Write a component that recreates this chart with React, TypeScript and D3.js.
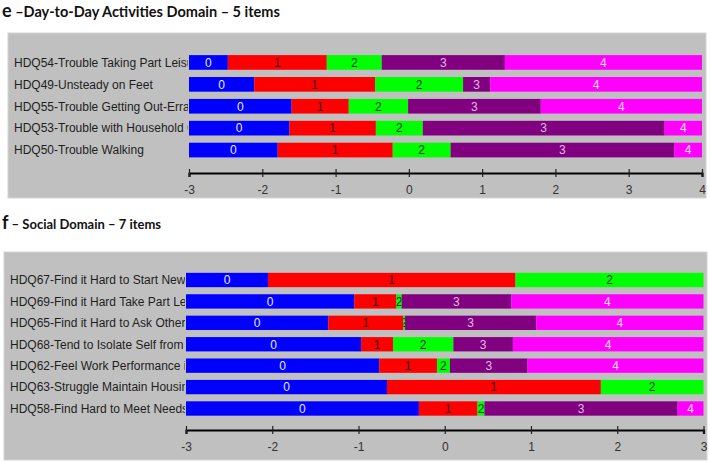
import React, { useEffect, useRef } from 'react';
import * as d3 from 'd3';

// category colours (0..4) and the colour of the number printed in each
const categories = ['0', '1', '2', '3', '4'];
const catColors = ['#0000ff', '#ff0000', '#00ff00', '#800080', '#ff00ff'];
const catText = ['#e8e8ff', '#3a0000', '#003a00', '#e0b8e0', '#ffe0ff'];

// e - Day-to-Day Activities
const dailyLabels = [
    'HDQ54-Trouble Taking Part Leisure',
    'HDQ49-Unsteady on Feet',
    'HDQ55-Trouble Getting Out-Errands',
    'HDQ53-Trouble with Household Chores',
    'HDQ50-Trouble Walking',
];
// category thresholds per item (start of categories 1..4)
const dailyThresholds = [
    [-2.47, -1.12, -0.37, 1.31],
    [-2.11, -0.46, 0.74, 1.11],
    [-1.60, -0.82, -0.01, 1.80],
    [-1.63, -0.45, 0.19, 3.49],
    [-1.79, -0.22, 0.57, 3.62],
];
const dailyTicks = [-3, -2, -1, 0, 1, 2, 3, 4];

// f - Social
const socialLabels = [
    'HDQ67-Find it Hard to Start New',
    'HDQ69-Find it Hard Take Part Leisure',
    'HDQ65-Find it Hard to Ask Others',
    'HDQ68-Tend to Isolate Self from',
    'HDQ62-Feel Work Performance is',
    'HDQ63-Struggle Maintain Housing',
    'HDQ58-Find Hard to Meet Needs',
];
const socialThresholds = [
    [-2.05, 0.82],
    [-1.05, -0.56, -0.50, 0.77],
    [-1.35, -0.48, -0.46, 1.06],
    [-0.97, -0.60, 0.10, 0.79],
    [-0.76, -0.09, 0.06, 0.96],
    [-0.67, 1.81],
    [-0.30, 0.38, 0.46, 2.70],
];
const socialTicks = [-3, -2, -1, 0, 1, 2, 3];

function drawPanel(svg, id, opts) {
    const { box, labels, thresholds, ticks, xRange, yRange, axisY, labelX } = opts;
    const min = ticks[0], max = ticks[ticks.length - 1];

    const x = d3.scaleLinear().domain([min, max]).range(xRange);
    const y = d3.scaleBand().domain(labels).range(yRange)
        .paddingInner(0.33).paddingOuter(0.165);

    const g = svg.append('g');

    g.append('rect')
        .attr('x', box[0]).attr('y', box[1])
        .attr('width', box[2]).attr('height', box[3])
        .attr('fill', '#c0c0c0')
        .attr('stroke', '#d4d4d4');

    // item labels are cut off where the bars start
    svg.append('clipPath').attr('id', id + '-lab')
        .append('rect')
        .attr('x', 0).attr('y', box[1])
        .attr('width', xRange[0] - 1).attr('height', box[3]);

    g.append('g').attr('clip-path', `url(#${id}-lab)`)
        .selectAll('text').data(labels).join('text')
        .attr('x', labelX)
        .attr('y', d => y(d) + y.bandwidth() / 2)
        .attr('dy', '0.36em')
        .attr('font-family', 'Liberation Sans, Arial, sans-serif')
        .attr('font-size', 12)
        .attr('fill', '#1e1e1e')
        .text(d => d);

    labels.forEach((lab, i) => {
        const cuts = [min].concat(thresholds[i], [max]);
        const segs = d3.range(cuts.length - 1).map(k => ({ k, a: cuts[k], b: cuts[k + 1] }));
        const row = g.append('g');
        segs.forEach(s => {
            const x0 = x(s.a), x1 = x(s.b);
            const cid = `${id}-r${i}-s${s.k}`;
            svg.append('clipPath').attr('id', cid)
                .append('rect')
                .attr('x', x0).attr('y', y(lab))
                .attr('width', x1 - x0).attr('height', y.bandwidth());
            row.append('rect')
                .attr('x', x0).attr('y', y(lab))
                .attr('width', x1 - x0).attr('height', y.bandwidth())
                .attr('fill', catColors[s.k]);
            row.append('text')
                .attr('clip-path', `url(#${cid})`)
                .attr('x', (x0 + x1) / 2)
                .attr('y', y(lab) + y.bandwidth() / 2)
                .attr('dy', '0.36em')
                .attr('text-anchor', 'middle')
                .attr('font-family', 'Liberation Sans, Arial, sans-serif')
                .attr('font-size', 12)
                .attr('fill', catText[s.k])
                .text(categories[s.k]);
        });
    });

    // axis
    const axis = d3.axisBottom(x).tickValues(ticks).tickSizeOuter(0).tickSize(4).tickFormat(d3.format('d'));
    const ag = g.append('g')
        .attr('transform', `translate(0,${axisY})`)
        .call(axis);
    ag.select('.domain').attr('stroke', '#000').attr('stroke-width', 2.2);
    ag.selectAll('.tick line')
        .attr('y1', -4).attr('y2', 4)
        .attr('stroke', '#222').attr('stroke-width', 1.2);
    ag.selectAll('.tick text')
        .attr('y', 12)
        .attr('font-family', 'Liberation Sans, Arial, sans-serif')
        .attr('font-size', 12)
        .attr('fill', '#333')
        .text(d => (d < 0 ? '-' + Math.abs(d) : String(d)));
}

export default function App() {
    const ref = useRef(null);

    useEffect(() => {
        const svg = d3.select(ref.current);
        svg.selectAll('*').remove();

        const title = (yy, big, rest, size) => {
            const t = svg.append('text')
                .attr('x', 2).attr('y', yy)
                .attr('font-family', 'Lato, sans-serif')
                .attr('font-weight', 'bold')
                .attr('fill', '#111');
            t.append('tspan').attr('font-size', 18).text(big);
            t.append('tspan').attr('font-size', size).text(rest);
        };
        title(17, 'e', ' \u2013Day-to-Day Activities Domain \u2013 5 items', 14.5);
        title(229, 'f', ' \u2013 Social Domain \u2013 7 items', 13);

        drawPanel(svg, 'daily', {
            box: [8, 33, 698, 165],
            labels: dailyLabels,
            thresholds: dailyThresholds,
            ticks: dailyTicks,
            xRange: [189, 702],
            yRange: [51.5, 161],
            axisY: 173,
            labelX: 14,
        });

        drawPanel(svg, 'social', {
            box: [4, 252, 703, 208],
            labels: socialLabels,
            thresholds: socialThresholds,
            ticks: socialTicks,
            xRange: [186, 703.5],
            yRange: [269.3, 419.2],
            axisY: 430,
            labelX: 10,
        });
    }, []);

    return (
        <svg ref={ref} width={710} height={462}
            style={{ position: 'absolute', left: 0, top: 0, background: '#fff' }} />
    );
}
